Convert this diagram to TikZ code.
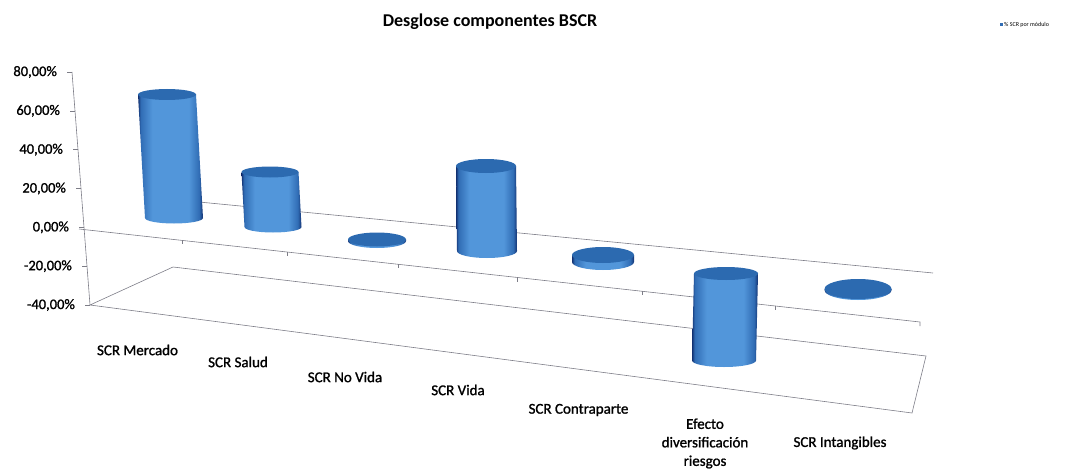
\documentclass[tikz,border=0pt]{standalone}
\usepackage{fontspec}
\setmainfont{Carlito}
\newfontfamily\chartfont{Carlito}[RawFeature={embolden=1.2}]
\definecolor{bscrdark}{RGB}{18,48,112}
\definecolor{bscrmid}{RGB}{48,108,180}
\definecolor{bscrlight}{RGB}{82,150,218}
\definecolor{bscrtop}{RGB}{44,106,176}
\definecolor{bscrgrid}{RGB}{125,125,135}
\usepackage{tikz}
\usetikzlibrary{calc}
\pgfdeclarehorizontalshading{cylbody}{100bp}{color(0bp)=(bscrdark); color(25bp)=(bscrdark); color(27bp)=(bscrmid); color(36bp)=(bscrlight); color(64bp)=(bscrlight); color(72bp)=(bscrmid); color(75bp)=(bscrdark); color(100bp)=(bscrdark)}

\begin{document}
\begin{tikzpicture}[x=1pt, y=-1pt,
    gridline/.style={bscrgrid, line width=0.6pt},
    axlabel/.style={anchor=east, inner sep=0pt, font=\chartfont\fontsize{14.5}{17}\selectfont},
    catlabel/.style={inner sep=0pt, align=center, font=\chartfont\fontsize{15}{18.5}\selectfont}]
    \useasboundingbox (0,0) rectangle (1067,468);

    % floor and axis
    \coordinate (axtop) at (72,72);
    \coordinate (axbot) at (90,305);
    \coordinate (flbl) at (173,267);
    \coordinate (flbr) at (926,356);
    \coordinate (flfr) at (912,413);
    \draw[gridline] (axtop) -- (axbot);
    \draw[gridline] (axbot) -- (flbl) -- (flbr) -- (flfr) -- cycle;
    \foreach \v [count=\i from 0] in {80,60,40,20,0,-20,-40} {
        \draw[gridline] ($(axtop)!\i/6!(axbot)$) -- ++(-5,0);
        \node[axlabel] (ax\i) at ($(axtop)!\i/6!(axbot) + (-15,0)$) {\v,00\%};
    }

    % zero level
    \coordinate (zbl) at (168,199);
    \coordinate (zbr) at (933,273);
    \coordinate (zfl) at (79,229);
    \coordinate (zfr) at (920,322);
    \draw[gridline] (zbl) -- (zbr);
    \draw[gridline] (zfl) -- (zfr) -- ++(0,4);
    \foreach \t in {182,287,398,517,642,775}
        \draw[gridline] (\t,{229+(\t-79)*0.1109}) -- ++(0,4);

    % cylinders
    \foreach \xt/\yt/\xb/\yb/\rx/\ry in {167/94.5/174/218/29/5.5, 270/172/273/227/28.5/5.5, 377/239.5/377/241/29/7,
        486/166/487/251/30/7, 603/255/603/262/31/8, 726/273.5/724/360.5/32/6.5, 858/289/858/290/33.5/10} {
        \shade[shading=cylbody] (\xt-\rx,\yt) -- (\xb-\rx,\yb)
            arc[start angle=180, end angle=0, x radius=\rx, y radius=\ry] -- (\xt+\rx,\yt) -- cycle;
        \fill[bscrtop] (\xt,\yt) ellipse[x radius=\rx, y radius=\ry];
    }

    % texts
    \node[font=\fontsize{18}{22}\selectfont\bfseries] (title) at (490,22) {Desglose componentes BSCR};
    \fill[bscrmid] (999.5,23.5) rectangle (1002.5,26.5);
    \node[anchor=west, inner sep=0pt, font=\fontsize{6}{7}\selectfont] (legend) at (1004,25) {\% SCR por módulo};

    \node[catlabel] (mercado) at (137.5,350) {SCR Mercado};
    \node[catlabel] (salud) at (238,362) {SCR Salud};
    \node[catlabel] (novida) at (345,377) {SCR No Vida};
    \node[catlabel] (vida) at (458,390) {SCR Vida};
    \node[catlabel] (contra) at (578.5,410) {SCR Contraparte};
    \node[catlabel] (efecto) at (705,443.5) {Efecto\\diversificación\\riesgos};
    \node[catlabel] (intang) at (840,443) {SCR Intangibles};
\end{tikzpicture}
\end{document}
